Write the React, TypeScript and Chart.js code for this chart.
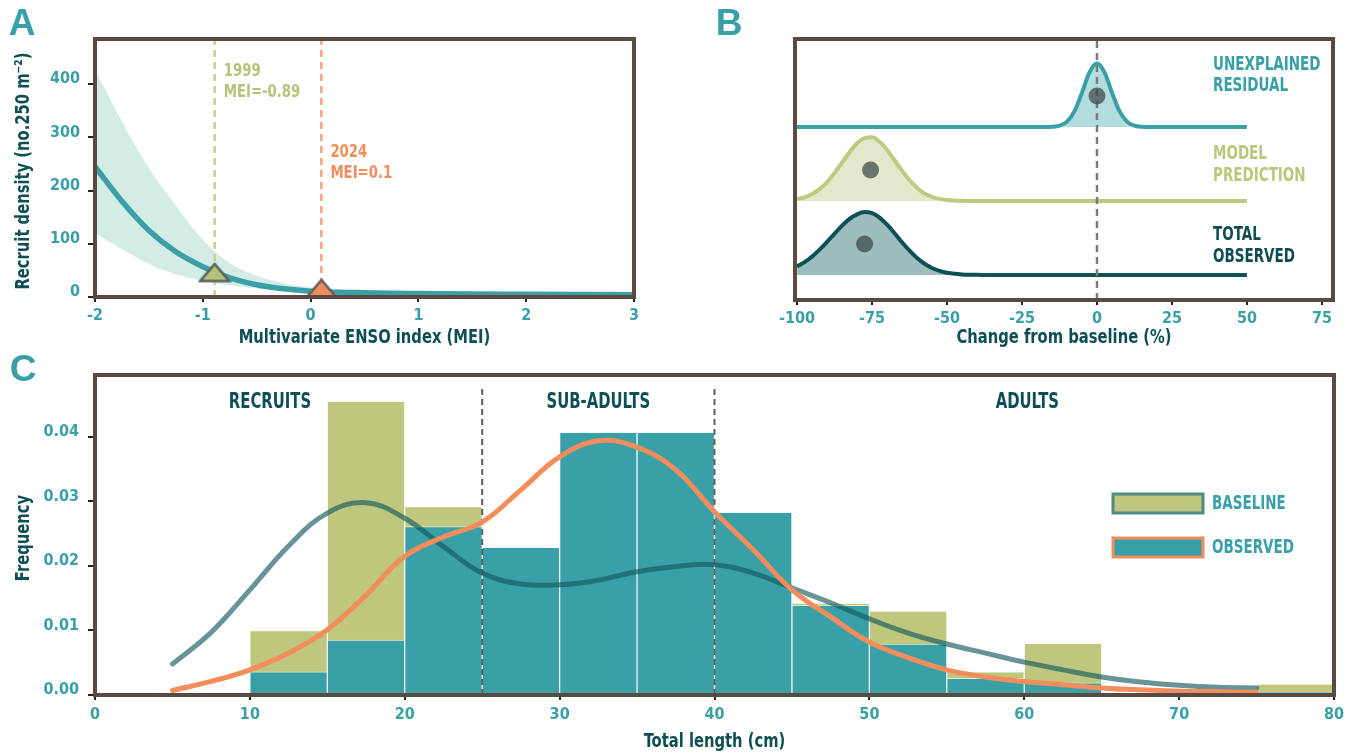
import React, { useEffect, useRef } from "react";
import { Chart, registerables } from "chart.js";

Chart.register(...registerables);

const FONT = '"Liberation Sans Narrow", "DejaVu Sans Condensed", "Arial Narrow", sans-serif';
const WIDE = '"Liberation Sans", Arial, sans-serif';
const TEAL = "#3aa0a7";
const DARK = "#0e4f56";
const OLIVE = "#bec77d";
const ORANGE = "#f48d5c";
const FRAME = "#5b4a42";
const TITLE_SX = 0.82;
const CAPS_SX = 0.75;

// ---------- Panel A ----------
const aMei = [-2, -1.75, -1.5, -1.25, -1, -0.75, -0.5, -0.25, 0, 0.25, 0.5, 0.75, 1, 1.5, 2, 2.5, 3];
const aFit = [245, 180, 125, 85, 57, 36, 23, 15.5, 11, 9, 8, 7, 6.5, 5.5, 5, 4.5, 4];
const aUpper = [427, 330, 243, 172, 108, 64, 40, 26, 18, 14, 11, 9.5, 8.5, 7, 6, 5.5, 5];
const aLower = [120, 90, 62, 43, 31, 22, 16, 11, 7.5, 6, 5, 4.5, 4, 3.5, 3, 2.8, 2.5];
const aXTicks = [-2, -1, 0, 1, 2, 3];
const aYTicks = [0, 100, 200, 300, 400];
const aEventYears = ["1999", "2024"];
const aEventMei = [-0.89, 0.1];
const aEventDensity = [46, 16];
const aEventColors = ["#b7c27a", "#f48d5c"];
const aEventLineColors = ["#c9d08f", "#f7a47e"];

// ---------- Panel B ----------
const bChange = [-100, -97.5, -95, -92.5, -90, -87.5, -85, -82.5, -80, -77.5, -75, -72.5, -70, -67.5, -65, -62.5, -60, -57.5, -55, -52.5, -50, -47.5, -45, -42.5, -40, -37.5, -35, -32.5, -30, -27.5, -25, -22.5, -20, -17.5, -15, -12.5, -10, -7.5, -5, -2.5, 0, 2.5, 5, 7.5, 10, 12.5, 15, 17.5, 20, 22.5, 25, 27.5, 30, 32.5, 35, 37.5, 40, 42.5, 45, 47.5, 50];
const bResidual = [
  0, 0, 0, 0, 0, 0, 0, 0, 0, 0,
  0, 0, 0, 0, 0, 0, 0, 0, 0, 0,
  0, 0, 0, 0, 0, 0, 0, 0, 0, 0,
  0, 0, 0, 0,
  0.003, 0.018, 0.073, 0.214, 0.464, 0.737, 0.86, 0.737, 0.464, 0.214, 0.073, 0.018, 0.003,
  0, 0, 0, 0, 0, 0, 0, 0, 0, 0,
  0, 0, 0, 0,
];
const bPrediction = [
  0.025, 0.05, 0.093, 0.16, 0.256, 0.38, 0.52, 0.66, 0.78, 0.85, 0.86, 0.8, 0.69, 0.55, 0.41, 0.28, 0.18, 0.1, 0.057, 0.028, 0.013, 0.006, 0.002,
  0, 0, 0, 0, 0, 0, 0, 0, 0, 0,
  0, 0, 0, 0, 0, 0, 0, 0, 0, 0,
  0, 0, 0, 0, 0, 0, 0, 0, 0, 0,
  0, 0, 0, 0, 0, 0, 0, 0,
];
const bObserved = [
  0.115, 0.174, 0.25, 0.343, 0.449, 0.56, 0.667, 0.758, 0.82, 0.85, 0.835, 0.775, 0.68, 0.565, 0.442, 0.328, 0.229, 0.152, 0.095, 0.056, 0.031, 0.016, 0.008, 0.004, 0.002, 0.001,
  0, 0, 0, 0, 0, 0, 0, 0, 0, 0,
  0, 0, 0, 0, 0, 0, 0, 0, 0, 0,
  0, 0, 0, 0, 0, 0, 0, 0, 0, 0,
  0, 0, 0, 0, 0,
];
const bLevels = [2, 1, 0];
const bMeanChange = [0, -75.5, -77.5];
const bMeanHeight = [0.42, 0.42, 0.42];
const bXTicks = [-100, -75, -50, -25, 0, 25, 50, 75];
const bLabels = [["UNEXPLAINED", "RESIDUAL"], ["MODEL", "PREDICTION"], ["TOTAL", "OBSERVED"]];
const bLineColors = ["#3aa0a7", "#bfca80", "#0d5056"];
const bFillColors = ["#b3dcdc", "#e3e8cc", "#9dbdbf"];
const bLabelColors = ["#3aa0a7", "#bcc77c", "#0d4c52"];

// ---------- Panel C ----------
const cBinStart = [10, 15, 20, 25, 30, 35, 40, 45, 50, 55, 60, 65, 70, 75];
const cBaselineFreq = [0.01, 0.0455, 0.0292, 0.017, 0.018, 0.02, 0.019, 0.0142, 0.013, 0.0036, 0.008, 0.0002, 0, 0.0017];
const cObservedFreq = [0.0036, 0.0085, 0.0261, 0.0229, 0.0407, 0.0407, 0.0283, 0.0139, 0.0079, 0.0026, 0.0019, 0.0002, 0, 0.0005];
const cKdeX = [5, 7.5, 10, 12.5, 15, 17.5, 20, 22.5, 25, 27.5, 30, 32.5, 35, 37.5, 40, 42.5, 45, 47.5, 50, 52.5, 55, 57.5, 60, 62.5, 65, 67.5, 70, 72.5, 75];
const cBaselineKde = [0.0048, 0.0097, 0.0163, 0.0231, 0.0282, 0.0298, 0.0274, 0.023, 0.0189, 0.0172, 0.0171, 0.0178, 0.0191, 0.0199, 0.0202, 0.0189, 0.0166, 0.0143, 0.0118, 0.0096, 0.0079, 0.0065, 0.0051, 0.0039, 0.0028, 0.002, 0.0015, 0.0012, 0.0011];
const cObservedKde = [0.0007, 0.0021, 0.0039, 0.0065, 0.0101, 0.0155, 0.0215, 0.0245, 0.0268, 0.0318, 0.0369, 0.0394, 0.0384, 0.0349, 0.0284, 0.0225, 0.0163, 0.0121, 0.0082, 0.0058, 0.0039, 0.0028, 0.0021, 0.0016, 0.0011, 0.0008, 0.0006, 0.0005, 0.0004];
const cStageBounds = [25, 40];
const cStageNames = ["RECRUITS", "SUB-ADULTS", "ADULTS"];
const cStageCenters = [11.3, 32.5, 60.2];
const cXTicks = [0, 10, 20, 30, 40, 50, 60, 70, 80];
const cYTicks = [0, 0.01, 0.02, 0.03, 0.04];
const cLegendNames = ["BASELINE", "OBSERVED"];

function txt(ctx: CanvasRenderingContext2D, s: string, x: number, y: number, color: string, size: number, align: CanvasTextAlign = "left", sx = 1, rot = 0, family = FONT) {
  ctx.save();
  ctx.font = `bold ${size}px ${family}`;
  ctx.fillStyle = color;
  ctx.textAlign = align;
  ctx.textBaseline = "middle";
  ctx.translate(x, y);
  if (rot) ctx.rotate(rot);
  ctx.scale(sx, 1);
  ctx.fillText(s, 0, 0);
  ctx.restore();
}

function framePlugin(extra: (chart: any) => void) {
  return {
    id: "frameAndText",
    afterDatasetsDraw(chart: any) {
      const { ctx, chartArea: a } = chart;
      ctx.save();
      ctx.strokeStyle = FRAME;
      ctx.lineWidth = 4;
      ctx.strokeRect(a.left, a.top, a.right - a.left, a.bottom - a.top);
      ctx.restore();
    },
    afterDraw(chart: any) {
      extra(chart);
    },
  };
}

const tickFont = { family: FONT, size: 16, weight: "bold" as const };

function tickGrid(len: number) {
  return { display: true, drawOnChartArea: false, drawTicks: true, tickLength: len, color: "#222", lineWidth: 2 };
}

function makeTriangle(fill: string) {
  const c = document.createElement("canvas");
  c.width = 34;
  c.height = 22;
  const ctx = c.getContext("2d")!;
  ctx.beginPath();
  ctx.moveTo(2.5, 19.5);
  ctx.lineTo(31.5, 19.5);
  ctx.lineTo(17, 2.5);
  ctx.closePath();
  ctx.fillStyle = fill;
  ctx.fill();
  ctx.lineWidth = 2.5;
  ctx.strokeStyle = "#5f5f5f";
  ctx.lineJoin = "miter";
  ctx.stroke();
  return c;
}

function axisTitles(chart: any, xTitle: string, xTitleY: number, yTitle?: string, yTitleX?: number) {
  const { ctx, chartArea: a } = chart;
  txt(ctx, xTitle, (a.left + a.right) / 2, xTitleY, DARK, 20, "center", TITLE_SX);
  if (yTitle) txt(ctx, yTitle, yTitleX as number, (a.top + a.bottom) / 2 + 3, DARK, 20, "center", TITLE_SX, -Math.PI / 2);
}

function configA(): any {
  const pts = (ys: number[]) => aMei.map((x, i) => ({ x, y: ys[i] }));
  const tri = aEventColors.map((c) => makeTriangle(c));
  const yMax = 485;
  return {
    type: "line",
    data: {
      datasets: [
        {
          data: aEventMei.map((x, i) => ({ x, y: aEventDensity[i] })),
          showLine: false,
          pointStyle: tri,
          pointRadius: 10,
        },
        { data: pts(aFit), borderColor: "#3a9fa6", borderWidth: 5.5, pointRadius: 0, cubicInterpolationMode: "monotone" },
        ...aEventMei.map((x, i) => ({
          data: [{ x, y: 0 }, { x, y: yMax }],
          borderColor: aEventLineColors[i],
          borderWidth: 2.5,
          borderDash: [7, 5],
          pointRadius: 0,
        })),
        { data: pts(aUpper), borderWidth: 0, pointRadius: 0, fill: "+1", backgroundColor: "#d3ece6", tension: 0.4 },
        { data: pts(aLower), borderWidth: 0, pointRadius: 0, tension: 0.4 },
      ],
    },
    options: {
      responsive: false,
      animation: false,
      events: [],
      layout: { padding: { top: 39, right: 46, left: 0, bottom: 0 } },
      plugins: { legend: { display: false }, tooltip: { enabled: false } },
      scales: {
        x: {
          type: "linear",
          min: -2,
          max: 3,
          afterFit: (s: any) => { s.height = 55; },
          afterBuildTicks: (s: any) => { s.ticks = aXTicks.map((v) => ({ value: v })); },
          ticks: { color: TEAL, font: tickFont, padding: 4, maxRotation: 0 },
          grid: tickGrid(5),
          border: { display: false },
        },
        y: {
          type: "linear",
          min: 0,
          max: yMax,
          afterFit: (s: any) => { s.width = 95; },
          afterBuildTicks: (s: any) => { s.ticks = aYTicks.map((v) => ({ value: v })); },
          ticks: { color: TEAL, font: tickFont, padding: 8, labelOffset: -5 },
          grid: tickGrid(7),
          border: { display: false },
        },
      },
    },
    plugins: [
      framePlugin((chart) => {
        const ctx = chart.ctx;
        const xs = chart.scales.x;
        txt(ctx, "A", 22, 25, TEAL, 37, "center", 1, 0, WIDE);
        axisTitles(chart, "Multivariate ENSO index (MEI)", 338, "Recruit density (no.250 m⁻²)", 24);
        const rows = [[71.5, 92.5], [152, 173]];
        aEventMei.forEach((m, i) => {
          const px = xs.getPixelForValue(m) + 9;
          txt(ctx, aEventYears[i], px, rows[i][0], aEventColors[i], 18, "left", TITLE_SX);
          txt(ctx, `MEI=${m}`, px, rows[i][1], aEventColors[i], 18, "left", TITLE_SX);
        });
      }),
    ],
  };
}

function configB(): any {
  const ridges = [bResidual, bPrediction, bObserved];
  const yMin = -0.338;
  const yMax = 3.189;
  return {
    type: "line",
    data: {
      datasets: [
        {
          data: bMeanChange.map((x, i) => ({ x, y: bLevels[i] + bMeanHeight[i] })),
          showLine: false,
          pointRadius: 8.5,
          pointBackgroundColor: "rgba(58,70,70,0.72)",
          pointBorderWidth: 0,
        },
        {
          data: [{ x: 0, y: yMin }, { x: 0, y: yMax }],
          borderColor: "#7b7b7b",
          borderWidth: 2.5,
          borderDash: [7, 5],
          pointRadius: 0,
        },
        ...ridges.map((h, r) => ({
          data: bChange.map((x, i) => ({ x, y: bLevels[r] + h[i] })),
          borderColor: bLineColors[r],
          borderWidth: 4,
          pointRadius: 0,
          cubicInterpolationMode: "monotone",
          fill: { value: bLevels[r] },
          backgroundColor: bFillColors[r],
        })),
      ],
    },
    options: {
      responsive: false,
      animation: false,
      events: [],
      layout: { padding: { top: 39, right: 20, left: 105, bottom: 0 } },
      plugins: { legend: { display: false }, tooltip: { enabled: false } },
      scales: {
        x: {
          type: "linear",
          min: -100.7,
          max: 78.7,
          afterFit: (s: any) => { s.height = 52; },
          afterBuildTicks: (s: any) => { s.ticks = bXTicks.map((v) => ({ value: v })); },
          ticks: { color: TEAL, font: tickFont, padding: 4, maxRotation: 0 },
          grid: tickGrid(5),
          border: { display: false },
        },
        y: { type: "linear", display: false, min: yMin, max: yMax },
      },
    },
    plugins: [
      framePlugin((chart) => {
        const ctx = chart.ctx;
        txt(ctx, "B", 39, 25, TEAL, 37, "center", 1, 0, WIDE);
        axisTitles(chart, "Change from baseline (%)", 338);
        const ys = [[65, 86], [154, 176], [235, 257]];
        bLabels.forEach((lines, r) => {
          lines.forEach((s, j) => txt(ctx, s, 523, ys[r][j], bLabelColors[r], 20, "left", CAPS_SX));
        });
      }),
    ],
  };
}

function configC(): any {
  const yMax = 0.0496;
  const bars = (vals: number[]) => cBinStart.map((s, i) => ({ x: s + 2.5, y: vals[i] }));
  return {
    type: "bar",
    data: {
      datasets: [
        {
          type: "line",
          order: 1,
          data: cKdeX.map((x, i) => ({ x, y: cObservedKde[i] })),
          borderColor: ORANGE,
          borderWidth: 5,
          pointRadius: 0,
          tension: 0.4,
          borderCapStyle: "round",
        },
        {
          type: "line",
          order: 2,
          data: cKdeX.map((x, i) => ({ x, y: cBaselineKde[i] })),
          borderColor: "rgba(18,88,94,0.64)",
          borderWidth: 5,
          pointRadius: 0,
          tension: 0.4,
          borderCapStyle: "round",
        },
        ...cStageBounds.map((b) => ({
          type: "line",
          order: 3,
          data: [{ x: b, y: 0 }, { x: b, y: 0.0478 }],
          borderColor: "#5e5e5e",
          borderWidth: 2,
          borderDash: [6, 4],
          pointRadius: 0,
        })),
        {
          type: "bar",
          order: 4,
          data: bars(cObservedFreq),
          backgroundColor: "#38a0a6",
          borderColor: "rgba(235,245,245,0.75)",
          borderWidth: 1,
          grouped: false,
          barPercentage: 1,
          categoryPercentage: 1,
        },
        {
          type: "bar",
          order: 5,
          data: bars(cBaselineFreq),
          backgroundColor: OLIVE,
          borderColor: "rgba(245,248,235,0.8)",
          borderWidth: 1,
          grouped: false,
          barPercentage: 1,
          categoryPercentage: 1,
        },
      ],
    },
    options: {
      responsive: false,
      animation: false,
      events: [],
      layout: { padding: { top: 30, right: 19, left: 0, bottom: 0 } },
      plugins: { legend: { display: false }, tooltip: { enabled: false } },
      scales: {
        x: {
          type: "linear",
          min: 0,
          max: 80,
          offset: false,
          afterFit: (s: any) => { s.height = 59; },
          afterBuildTicks: (s: any) => { s.ticks = cXTicks.map((v) => ({ value: v })); },
          ticks: { color: TEAL, font: tickFont, padding: 5, maxRotation: 0 },
          grid: { ...tickGrid(5), offset: false },
          border: { display: false },
        },
        y: {
          type: "linear",
          min: 0,
          max: yMax,
          afterFit: (s: any) => { s.width = 95; },
          afterBuildTicks: (s: any) => { s.ticks = cYTicks.map((v) => ({ value: v })); },
          ticks: { color: TEAL, font: tickFont, padding: 9, labelOffset: -5, callback: (v: number) => v.toFixed(2) },
          grid: tickGrid(7),
          border: { display: false },
        },
      },
    },
    plugins: [
      framePlugin((chart) => {
        const ctx = chart.ctx;
        const xs = chart.scales.x;
        txt(ctx, "C", 23, 26, TEAL, 37, "center", 1, 0, WIDE);
        axisTitles(chart, "Total length (cm)", 397, "Frequency", 24);
        cStageNames.forEach((n, i) => txt(ctx, n, xs.getPixelForValue(cStageCenters[i]), 57, DARK, 22, "center", CAPS_SX));
        const fills = [OLIVE, "#38a0a6"];
        const strokes = ["#4f8a84", "#f48d5c"];
        const boxY = [149, 193];
        cLegendNames.forEach((n, i) => {
          ctx.save();
          ctx.fillStyle = fills[i];
          ctx.fillRect(1113, boxY[i], 90, 19);
          ctx.strokeStyle = strokes[i];
          ctx.lineWidth = 3;
          ctx.strokeRect(1113, boxY[i], 90, 19);
          ctx.restore();
          txt(ctx, n, 1212, boxY[i] + 10, TEAL, 20, "left", CAPS_SX);
        });
      }),
    ],
  };
}

export default function App() {
  const aRef = useRef<HTMLCanvasElement>(null);
  const bRef = useRef<HTMLCanvasElement>(null);
  const cRef = useRef<HTMLCanvasElement>(null);

  useEffect(() => {
    const charts: Chart[] = [];
    if (aRef.current) charts.push(new Chart(aRef.current, configA()));
    if (bRef.current) charts.push(new Chart(bRef.current, configB()));
    if (cRef.current) charts.push(new Chart(cRef.current, configC()));
    return () => charts.forEach((c) => c.destroy());
  }, []);

  const abs = (l: number, t: number, w: number, h: number): React.CSSProperties => ({
    position: "absolute", left: l, top: t, width: w, height: h,
  });

  return (
    <div style={{ position: "fixed", left: 0, top: 0, width: 1353, height: 754, background: "#fff", overflow: "hidden" }}>
      <canvas ref={aRef} width={680} height={352} style={abs(0, 0, 680, 352)} />
      <canvas ref={bRef} width={663} height={352} style={abs(690, 0, 663, 352)} />
      <canvas ref={cRef} width={1353} height={409} style={abs(0, 345, 1353, 409)} />
    </div>
  );
}
